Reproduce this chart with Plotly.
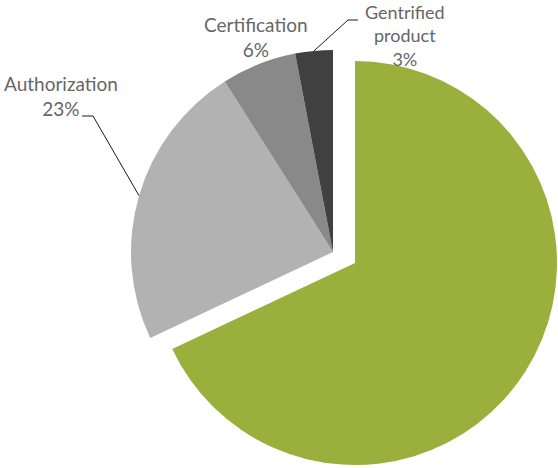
import math
import plotly.graph_objects as go

# ---- data ----
labels = ["Main", "Authorization", "Certification", "Gentrified product"]
label_text = ["", "Authorization", "Certification", "Gentrified<br>product"]
values = [68, 23, 6, 3]
colors = ["#9BAF3C", "#B2B2B2", "#898989", "#404040"]

W, H = 558, 468
CLEAR = "rgba(0,0,0,0)"

# layout geometry (pixels)
gray_c = (333, 252)
green_c = (355, 263)
R = 202


def dom(c):
    x0, x1 = (c[0] - R) / W, (c[0] + R) / W
    y0, y1 = 1 - (c[1] + R) / H, 1 - (c[1] - R) / H
    return dict(x=[max(0, x0), min(1, x1)], y=[max(0, y0), min(1, y1)])


fig = go.Figure()
# rest of the pie (green slice transparent)
fig.add_trace(go.Pie(
    labels=labels, values=values, sort=False, direction="clockwise", rotation=0,
    marker=dict(colors=[CLEAR] + colors[1:], line=dict(width=0)),
    textinfo="none", hoverinfo="label+percent", domain=dom(gray_c), showlegend=False,
))
# exploded green slice (others transparent)
fig.add_trace(go.Pie(
    labels=labels, values=values, sort=False, direction="clockwise", rotation=0,
    marker=dict(colors=[colors[0]] + [CLEAR] * 3, line=dict(width=0)),
    textinfo="none", hoverinfo="label+percent", domain=dom(green_c), showlegend=False,
))

total = sum(values)
cum = [sum(values[:i]) for i in range(len(values))]


def arc_point(i):
    mid = (cum[i] + values[i] / 2) / total * 2 * math.pi
    return gray_c[0] + R * math.sin(mid), gray_c[1] - R * math.cos(mid)


def px(x, y):
    return x / W, 1 - y / H


label_pos = {1: (61, 96, 19), 2: (256, 37, 19), 3: (405, 36, 18)}
annotations = []
for i, (x, y, fs) in label_pos.items():
    pct = round(values[i] / total * 100)
    ax, ay = px(x, y)
    annotations.append(dict(
        x=ax, y=ay, xref="paper", yref="paper", showarrow=False,
        text=f"{label_text[i]}<br>{pct}%", align="center",
        font=dict(family="Lato, 'Open Sans', sans-serif", size=fs, color="#666666"),
        xanchor="center", yanchor="middle",
    ))

shapes = []
leader = {1: [(82, 116), (93, 116)], 3: [(358, 20), (348, 20)]}
for i, pts in leader.items():
    ex, ey = arc_point(i)
    allp = pts + [(ex, ey)]
    path = "M " + " L ".join(f"{px(a, b)[0]},{px(a, b)[1]}" for a, b in allp)
    shapes.append(dict(type="path", path=path, xref="paper", yref="paper",
                       line=dict(color="#1a1a1a", width=1)))

fig.update_layout(
    width=W, height=H, margin=dict(l=0, r=0, t=0, b=0),
    paper_bgcolor="white", plot_bgcolor="white",
    annotations=annotations, shapes=shapes,
)
fig.write_html("out.html", config={"displayModeBar": False},
               post_script="document.body.style.margin='0';")
